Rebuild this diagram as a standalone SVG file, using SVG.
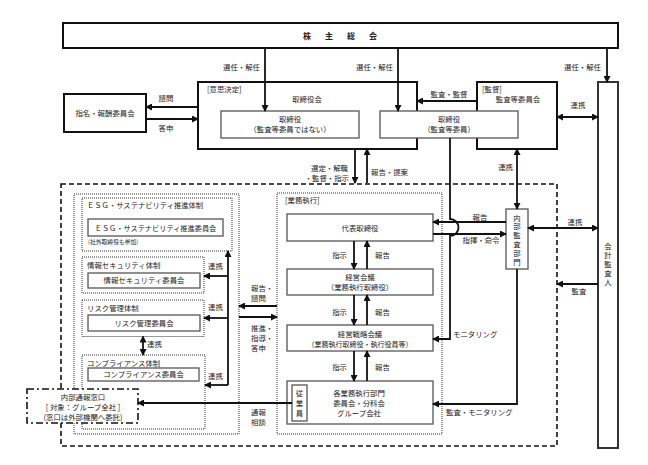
<svg xmlns="http://www.w3.org/2000/svg" width="648" height="465" viewBox="0 0 648 465">
<style>
text{font-family:"Noto Sans CJK JP","Noto Sans",sans-serif;font-size:7.4px;fill:#222}
.c{text-anchor:middle}
.e{text-anchor:end}
.v{writing-mode:vertical-rl;text-anchor:middle}
.b{fill:#fff;stroke:#111;stroke-width:2}
.g{fill:#fff;stroke:#555;stroke-width:1.3}
.dot{fill:none;stroke:#333;stroke-width:1;stroke-dasharray:1 1}
.dash{fill:none;stroke:#111;stroke-width:1.6;stroke-dasharray:5 3}
.dd{fill:#fff;stroke:#111;stroke-width:1.6;stroke-dasharray:7 3 2 3}
.ln{fill:none;stroke:#111;stroke-width:1.8}
.a{marker-end:url(#ah)}
.a2{marker-start:url(#ah);marker-end:url(#ah)}
</style>
<defs>
<marker id="ah" viewBox="0 0 7 7" refX="6" refY="3.5" markerWidth="7" markerHeight="7" markerUnits="userSpaceOnUse" orient="auto-start-reverse"><path d="M0,0 L7,3.5 L0,7 z" fill="#111"/></marker>
</defs>

<rect class="dash" x="61" y="184" width="496" height="262"/>

<g id="shareholders">
<rect class="b" x="63" y="23" width="555" height="25"/>
<text x="303 325 347 369" y="39" style="font-weight:bold;font-size:8px">株主総会</text>
</g>

<g id="board">
<rect class="b" x="198" y="82" width="219" height="67"/>
<text x="207" y="92">[意思決定]</text>
<text class="c" x="307" y="102">取締役会</text>
</g>

<g id="audit-committee">
<rect class="b" x="477" y="82" width="80" height="67"/>
<text x="482" y="92">[監督]</text>
<text class="c" x="518" y="102">監査等委員会</text>
</g>

<g id="director-non">
<rect class="g" x="221" y="111" width="138" height="27"/>
<text class="c" y="122"><tspan x="290">取締役</tspan><tspan x="290" dy="10">（監査等委員ではない）</tspan></text>
</g>

<g id="director-audit">
<rect class="g" x="380" y="111" width="138" height="27"/>
<text class="c" y="122"><tspan x="449">取締役</tspan><tspan x="449" dy="10">（監査等委員）</tspan></text>
</g>

<g id="nomination">
<rect class="b" x="64" y="94" width="82" height="38"/>
<text class="c" x="105" y="116">指名・報酬委員会</text>
</g>

<g id="accounting-auditor">
<rect class="b" x="598" y="82" width="20" height="366" style="stroke:#333"/>
<text class="v" x="608" y="265" style="letter-spacing:1.6px">会計監査人</text>
</g>

<g id="execution-frame">
<rect class="dot" x="277" y="193" width="165" height="241"/>
<text x="285" y="203">[業務執行]</text>
</g>

<g id="ceo">
<rect class="g" x="287" y="214" width="146" height="27"/>
<text class="c" x="360" y="231">代表取締役</text>
</g>

<g id="mgmt-meeting">
<rect class="g" x="287" y="269" width="146" height="26"/>
<text class="c" y="280"><tspan x="360">経営会議</tspan><tspan x="360" dy="10">（業務執行取締役）</tspan></text>
</g>

<g id="strategy-meeting">
<rect class="g" x="287" y="325" width="146" height="26"/>
<text class="c" y="337"><tspan x="360">経営戦略会議</tspan><tspan x="360" dy="10" style="font-size:7px">（業務執行取締役・執行役員等）</tspan></text>
</g>

<g id="divisions">
<rect class="g" x="287" y="381" width="146" height="43"/>
<text class="c" y="395.5"><tspan x="359">各業務執行部門</tspan><tspan x="359" dy="10">委員会・分科会</tspan><tspan x="359" dy="10">グループ会社</tspan></text>
</g>

<g id="employees">
<rect class="g" x="292" y="385" width="15" height="36"/>
<text class="v" x="299.5" y="404" style="letter-spacing:2.6px">従業員</text>
</g>

<g id="internal-audit">
<rect class="g" x="506" y="209" width="22" height="60"/>
<text class="v" x="517" y="240.5" style="letter-spacing:1.4px">内部監査部門</text>
</g>

<g id="left-frame">
<rect class="dot" x="74" y="194" width="165" height="240"/>
</g>

<g id="esg">
<rect class="dot" x="82" y="198" width="150" height="53"/>
<text x="87" y="208" style="font-size:7.3px">ＥＳＧ・サステナビリティ推進体制</text>
<rect class="g" x="88" y="219" width="135" height="17"/>
<text class="c" x="155.5" y="230.5" style="font-size:7.2px">ＥＳＧ・サステナビリティ推進委員会</text>
<text x="88" y="244" style="font-size:5.8px">(社外取締役も参加)</text>
</g>

<g id="infosec">
<rect class="dot" x="82" y="257" width="122" height="36"/>
<text x="87" y="268">情報セキュリティ体制</text>
<rect class="g" x="88" y="273" width="112" height="15"/>
<text class="c" x="144" y="283">情報セキュリティ委員会</text>
</g>

<g id="risk">
<rect class="dot" x="82" y="300" width="122" height="36.5"/>
<text x="87" y="311">リスク管理体制</text>
<rect class="g" x="88" y="315" width="112" height="16"/>
<text class="c" x="144" y="326">リスク管理委員会</text>
</g>

<g id="compliance">
<rect class="dot" x="82" y="355" width="123" height="74"/>
<text x="87" y="366">コンプライアンス体制</text>
<rect class="g" x="88" y="368" width="111" height="13"/>
<text class="c" x="143.5" y="377">コンプライアンス委員会</text>
</g>

<g id="whistleblow">
<rect class="dd" x="27" y="389" width="111" height="34"/>
<text class="c" y="399.5"><tspan x="83">内部通報窓口</tspan><tspan x="83" dy="10">[ 対象：グループ全社 ]</tspan><tspan x="83" dy="10">(窓口は外部機関へ委託)</tspan></text>
</g>

<g id="connectors">
<path class="ln a" d="M265,48 V111"/>
<text class="e" x="260" y="70">選任・解任</text>
<path class="ln a" d="M398,48 V111"/>
<text class="e" x="393" y="70">選任・解任</text>
<path class="ln a" d="M607,48 V82"/>
<text class="e" x="601" y="70">選任・解任</text>

<path class="ln a" d="M477,101 H417"/>
<text class="c" x="449" y="97">監査・監督</text>
<path class="ln a2" d="M557,117 H598"/>
<text class="c" x="578" y="108">連携</text>

<path class="ln a" d="M198,107 H146"/>
<text class="c" x="166" y="101">諮問</text>
<path class="ln a" d="M146,119 H198"/>
<text class="c" x="166" y="131">答申</text>

<path class="ln a" d="M355,149 V183"/>
<text class="e" y="170.5"><tspan x="348">選定・解職</tspan><tspan x="349" dy="10">・監督・指示</tspan></text>
<path class="ln a" d="M367,183 V149"/>
<text x="371" y="175">報告・提案</text>

<path class="ln a" d="M450,138 V219 A8.5,8.5 0 0 1 450,236 V339 H433"/>
<text x="453" y="337">モニタリング</text>
<path class="ln a" d="M506,222 H433"/>
<text class="c" x="480" y="219.5">報告</text>
<path class="ln a" d="M433,234 H506"/>
<text class="c" x="481" y="243">指揮・命令</text>

<path class="ln a2" d="M517,149 V209"/>
<text class="e" x="513" y="170">連携</text>
<path class="ln a2" d="M528,228 H598"/>
<text class="c" x="575" y="224.5">連携</text>
<path class="ln a" d="M598,284 H557"/>
<text class="c" x="579" y="294">監査</text>
<path class="ln a" d="M517,269 V404 H433"/>
<text x="446" y="415">監査・モニタリング</text>

<path class="ln a" d="M354,241 V269"/>
<text class="e" x="347" y="258">指示</text>
<path class="ln a" d="M367,269 V241"/>
<text x="375" y="258">報告</text>
<path class="ln a" d="M354,295 V325"/>
<text class="e" x="347" y="315">指示</text>
<path class="ln a" d="M367,325 V295"/>
<text x="375" y="315">報告</text>
<path class="ln a" d="M354,351 V381"/>
<text class="e" x="347" y="370">指示</text>
<path class="ln a" d="M367,381 V351"/>
<text x="375" y="370">報告</text>

<path class="ln a" d="M277,306 H239"/>
<text y="291"><tspan x="251">報告・</tspan><tspan x="251" dy="10">諮問</tspan></text>
<path class="ln a" d="M239,317 H277"/>
<text y="331"><tspan x="251">推進・</tspan><tspan x="251" dy="10">指導・</tspan><tspan x="251" dy="10">答申</tspan></text>

<path class="ln a" d="M228,385 V251"/>
<path class="ln a" d="M228,276 H204"/>
<text x="208" y="269">連携</text>
<path class="ln a" d="M228,318 H204"/>
<text x="208" y="310">連携</text>
<path class="ln a" d="M228,385 H205"/>
<text x="208" y="379">連携</text>
<path class="ln a2" d="M143,336.5 V355"/>
<text x="147" y="347">連携</text>

<path class="ln a" d="M292,403 H138"/>
<text y="414.5"><tspan x="251">通報</tspan><tspan x="251" dy="10">相談</tspan></text>
</g>
</svg>
